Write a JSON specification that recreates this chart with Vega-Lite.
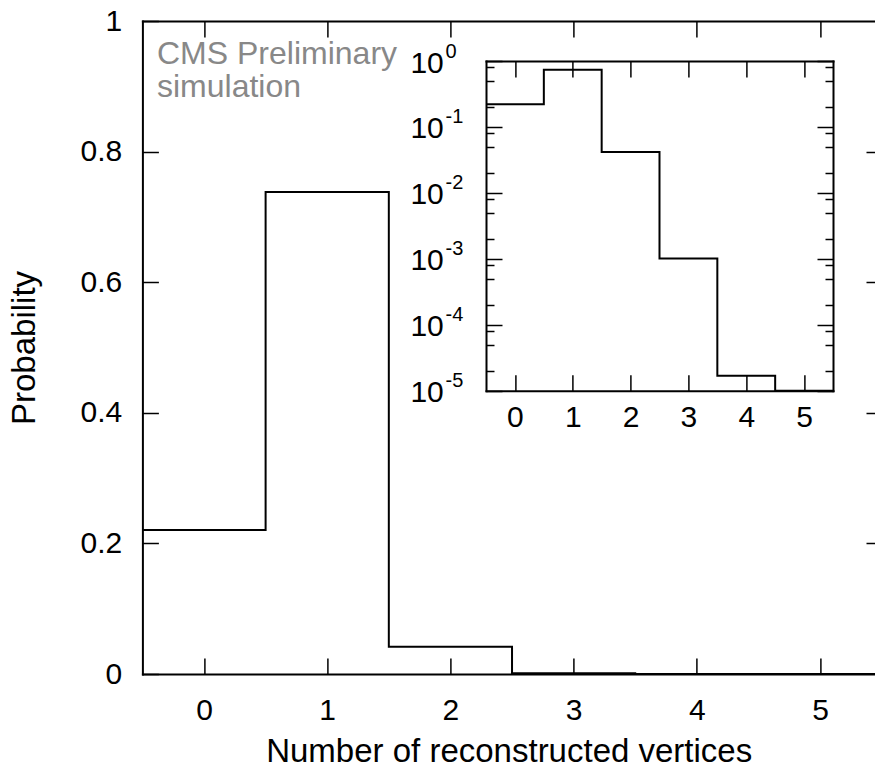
{
  "$schema": "https://vega.github.io/schema/vega-lite/v6.json",
  "width": 732.6,
  "height": 653,
  "autosize": {"type": "none"},
  "padding": {"left": 142.4, "top": 21, "right": 0, "bottom": 95},
  "background": "white",
  "datasets": {
    "hist": [
      {"edge": -0.5, "p": 0.2205},
      {"edge": 0.5, "p": 0.738},
      {"edge": 1.5, "p": 0.0418},
      {"edge": 2.5, "p": 0.00101},
      {"edge": 3.5, "p": 0.0000169},
      {"edge": 4.5, "p": 0},
      {"edge": 5.5, "p": 0}
    ]
  },
  "config": {
    "view": {"stroke": null},
    "font": "Liberation Sans",
    "axis": {
      "grid": false,
      "labelFlush": false,
      "labelOverlap": false,
      "domainColor": "black",
      "domainWidth": 2,
      "domainCap": "square",
      "tickColor": "black",
      "tickWidth": 1.5,
      "labelColor": "black",
      "labelFontSize": 30,
      "labelFont": "Liberation Sans",
      "titleFont": "Liberation Sans",
      "titleColor": "black",
      "titleFontWeight": "normal",
      "titleFontSize": 33
    }
  },
  "layer": [
    {
      "layer": [
        {
          "data": {"name": "hist"},
          "mark": {"type": "line", "interpolate": "step-after", "color": "black", "strokeWidth": 2, "clip": true},
          "encoding": {
            "x": {
              "field": "edge", "type": "quantitative",
              "scale": {"domain": [-0.5, 5.446], "nice": false, "zero": false},
              "axis": {"orient": "bottom", "values": [0, 1, 2, 3, 4, 5], "format": "d", "tickSize": -16, "labelPadding": 37, "title": "Number of reconstructed vertices", "titlePadding": 10}
            },
            "y": {
              "field": "p", "type": "quantitative",
              "scale": {"domain": [0, 1], "nice": false, "zero": false},
              "axis": {"orient": "left", "values": [0, 0.2, 0.4, 0.6, 0.8, 1], "labelExpr": "'' + datum.value", "tickSize": -16, "labelPadding": 36.7, "title": "Probability", "titlePadding": 38}
            }
          }
        },
        {
          "data": {"values": [{"note": "CMS Preliminary\nsimulation"}]},
          "mark": {"type": "text", "align": "left", "baseline": "alphabetic", "fontSize": 32, "color": "#888888", "lineHeight": 33, "lineBreak": "\n"},
          "encoding": {
            "x": {"datum": -0.3815, "type": "quantitative", "axis": {"orient": "top", "values": [0, 1, 2, 3, 4, 5], "tickSize": -16, "labels": false, "title": null}},
            "y": {"datum": 0.9342, "type": "quantitative", "axis": {"orient": "right", "values": [0.2, 0.4, 0.6, 0.8], "tickSize": -16, "labels": false, "domain": false, "offset": 7, "title": null}},
            "text": {"field": "note"}
          }
        }
      ],
      "resolve": {"axis": {"x": "independent", "y": "independent"}}
    },
    {
      "data": {"name": "hist"},
      "layer": [
        {
          "mark": {"type": "line", "interpolate": "step-after", "color": "black", "strokeWidth": 2, "invalid": null},
          "encoding": {
            "x": {
              "field": "edge", "type": "quantitative",
              "scale": {"domain": [-0.5, 5.5], "range": [343.6, 690.6], "nice": false, "zero": false},
              "axis": {"orient": "bottom", "offset": -283.3, "values": [0, 1, 2, 3, 4, 5], "format": "d", "tickSize": -16, "labelPadding": 28, "title": null}
            },
            "y": {
              "field": "p", "type": "quantitative",
              "scale": {"type": "log", "domain": [0.00001, 1], "range": [369.7, 40], "clamp": true, "nice": false},
              "axis": {"orient": "left", "offset": -343.6, "values": [0.00001, 0.0001, 0.001, 0.01, 0.1, 1], "labelExpr": "'10'", "tickSize": -16, "labelPadding": 58.7, "labelOffset": 2, "title": null}
            }
          }
        },
        {
          "mark": {"type": "line", "opacity": 0, "invalid": null},
          "encoding": {
            "x": {"field": "edge", "type": "quantitative", "axis": {"orient": "top", "offset": -40, "values": [0, 1, 2, 3, 4, 5], "tickSize": -16, "labels": false, "title": null}},
            "y": {"field": "p", "type": "quantitative", "axis": {"orient": "right", "offset": -42, "values": [0.00001, 0.0001, 0.001, 0.01, 0.1, 1], "tickSize": -16, "labels": false, "title": null}}
          }
        },
        {
          "mark": {"type": "line", "opacity": 0, "invalid": null},
          "encoding": {
            "x": {"field": "edge", "type": "quantitative", "axis": null},
            "y": {"field": "p", "type": "quantitative", "axis": {"orient": "left", "offset": -343.6, "values": [0.00001, 0.0001, 0.001, 0.01, 0.1, 1], "ticks": false, "tickSize": 0, "domain": false, "labelExpr": "'' + round(log(datum.value) / LN10)", "labelAlign": "left", "labelPadding": 41, "labelOffset": -10, "labelFontSize": 20, "title": null}}
          }
        },
        {
          "mark": {"type": "line", "opacity": 0, "invalid": null},
          "encoding": {
            "x": {"field": "edge", "type": "quantitative", "axis": null},
            "y": {"field": "p", "type": "quantitative", "axis": {"orient": "left", "offset": -343.6, "values": [0.00002, 0.00005, 0.00008, 0.0002, 0.0005, 0.0008, 0.002, 0.005, 0.008, 0.02, 0.05, 0.08, 0.2, 0.5, 0.8], "tickSize": -8, "labels": false, "domain": false, "title": null}}
          }
        },
        {
          "mark": {"type": "line", "opacity": 0, "invalid": null},
          "encoding": {
            "x": {"field": "edge", "type": "quantitative", "axis": null},
            "y": {"field": "p", "type": "quantitative", "axis": {"orient": "right", "offset": -42, "values": [0.00002, 0.00005, 0.00008, 0.0002, 0.0005, 0.0008, 0.002, 0.005, 0.008, 0.02, 0.05, 0.08, 0.2, 0.5, 0.8], "tickSize": -8, "labels": false, "domain": false, "title": null}}
          }
        }
      ],
      "resolve": {"axis": {"x": "independent", "y": "independent"}}
    }
  ],
  "resolve": {
    "scale": {"x": "independent", "y": "independent"},
    "axis": {"x": "independent", "y": "independent"}
  }
}
